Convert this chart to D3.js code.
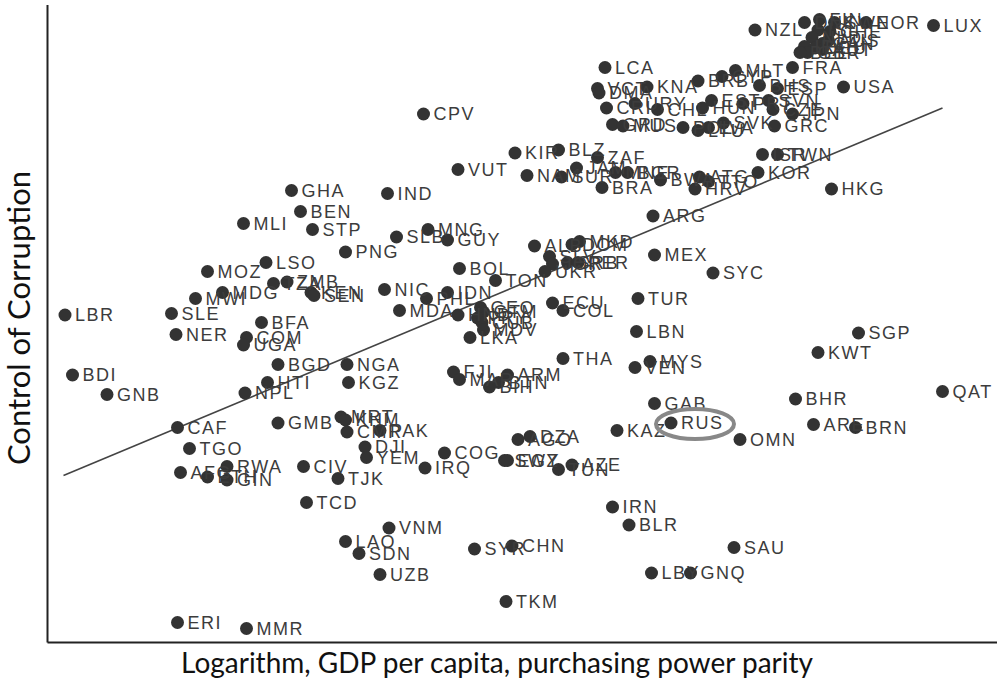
<!DOCTYPE html>
<html>
<head>
<meta charset="utf-8">
<script src="https://cdn.jsdelivr.net/npm/d3@7"></script>
<style>
  body { margin: 0; background: #fff; }
  svg { display: block; }
</style>
</head>
<body>
<div id="scatter"></div>
<script>
// country codes, log GDP per capita (PPP), control of corruption
const codes = [
  "LUX","NOR","NZL","DNK","FIN","SWE","ISL","CHE","NLD","AUS","CAN","IRL","DEU","AUT","GBR","BEL",
  "FRA","USA","LCA","VCT","DMA","KNA","BRB","CYP","MLT","BHS","ESP","CRI","URY","CHL","HUN","EST",
  "PRT","SVN","CZE","JPN","GRD","MUS","POL","LTU","LVA","SVK","GRC","CPV","BLZ","KIR","ZAF","VUT",
  "JAM","NAM","SUR","MNE","BGR","BRA","BWA","ATG","TTO","HRV","KOR","ISR","TWN","HKG","GHA","IND",
  "BEN","MLI","STP","MNG","SLB","GUY","ARG","PNG","MKD","DOM","ALB","MEX","SLV","JOR","SRB","PER",
  "UKR","SYC","BOL","TON","LSO","MOZ","MWI","MDG","TZA","ZMB","KEN","SEN","NIC","IDN","PHL","SLE",
  "BFA","MDA","HND","GEO","GTM","PRY","CUB","MDV","LKA","ECU","COL","TUR","LBN","THA","MYS","VEN",
  "FJI","MAR","BIH","BTN","ARM","LBR","NER","COM","UGA","BDI","GNB","BGD","HTI","NPL","NGA","KGZ",
  "CAF","GMB","MRT","KHM","CMR","PAK","DJI","YEM","TGO","AFG","ETH","RWA","GIN","CIV","TJK","IRQ",
  "COG","TCD","GAB","RUS","KAZ","AGO","DZA","SWZ","EGY","TUN","AZE","OMN","BHR","ARE","BRN","KWT",
  "SGP","QAT","IRN","BLR","SAU","LBY","GNQ","VNM","LAO","SDN","UZB","SYR","CHN","TKM","ERI","MMR"
];
const gdp = [
  11.91,11.46,10.72,11.05,11.15,11.25,11.14,11.22,11.10,11.21,11.17,11.05,11.12,11.17,11.07,11.02,
  10.97,11.31,9.72,9.67,9.68,10.00,10.34,10.50,10.59,10.75,10.87,9.73,9.92,10.07,10.37,10.43,
  10.64,10.81,10.84,10.97,9.77,9.84,10.24,10.34,10.41,10.51,10.85,8.51,9.41,9.12,9.67,8.74,
  9.53,9.20,9.43,9.79,9.87,9.70,10.09,10.35,10.41,10.32,10.74,10.77,10.87,11.23,7.63,8.27,
  7.69,7.31,7.77,8.54,8.33,8.67,10.04,7.99,9.55,9.50,9.25,10.05,9.35,9.37,9.47,9.54,
  9.32,10.44,8.75,8.99,7.46,7.07,6.99,7.17,7.51,7.60,7.76,7.78,8.25,8.67,8.53,6.83,
  7.43,8.35,8.74,8.89,8.91,8.87,8.90,8.91,8.82,9.37,9.44,9.94,9.93,9.44,10.02,9.92,
  8.71,8.75,8.95,9.01,9.07,6.12,6.86,7.33,7.31,6.17,6.40,7.54,7.47,7.32,8.00,8.01,
  6.87,7.54,7.96,7.99,8.00,8.22,8.12,8.13,6.95,6.89,7.07,7.20,7.20,7.71,7.94,8.52,
  8.65,7.73,10.05,10.16,9.80,9.14,9.22,9.05,9.07,9.41,9.50,10.62,10.99,11.11,11.39,11.14,
  11.41,11.97,9.77,9.88,10.58,10.03,10.29,8.28,7.99,8.08,8.22,8.85,9.10,9.06,6.87,7.33
];
const corruption = [
  2.36,2.38,2.33,2.38,2.40,2.38,2.33,2.32,2.28,2.26,2.24,2.22,2.21,2.20,2.18,2.18,
  2.08,1.95,2.08,1.94,1.91,1.95,1.99,2.02,2.06,1.96,1.94,1.81,1.84,1.80,1.81,1.86,
  1.84,1.86,1.80,1.77,1.70,1.69,1.68,1.66,1.68,1.71,1.69,1.77,1.53,1.51,1.48,1.40,
  1.41,1.36,1.35,1.38,1.38,1.28,1.33,1.35,1.32,1.27,1.38,1.50,1.50,1.27,1.26,1.24,
  1.12,1.04,1.00,1.00,0.95,0.93,1.09,0.85,0.92,0.90,0.89,0.83,0.82,0.77,0.78,0.78,
  0.72,0.71,0.74,0.66,0.78,0.72,0.54,0.58,0.64,0.65,0.58,0.56,0.60,0.58,0.54,0.44,
  0.38,0.46,0.43,0.48,0.45,0.41,0.38,0.33,0.28,0.51,0.46,0.54,0.32,0.14,0.12,0.08,
  0.05,0.00,-0.05,-0.02,0.03,0.43,0.30,0.28,0.23,0.03,-0.10,0.10,-0.02,-0.09,0.10,-0.02,
  -0.32,-0.29,-0.25,-0.27,-0.35,-0.34,-0.45,-0.52,-0.46,-0.62,-0.65,-0.58,-0.67,-0.58,-0.66,-0.59,
  -0.49,-0.82,-0.16,-0.29,-0.34,-0.40,-0.38,-0.54,-0.54,-0.60,-0.57,-0.40,-0.13,-0.30,-0.32,0.18,
  0.31,-0.08,-0.85,-0.97,-1.12,-1.29,-1.29,-0.99,-1.08,-1.16,-1.30,-1.13,-1.11,-1.48,-1.62,-1.66
];
// fitted line end points
const trendGdp = [6.11, 11.97];
const trendCorruption = [-0.64, 1.81];
const highlighted = "RUS";

const svgWidth = 997;
const svgHeight = 683;

const svg = d3.select("#scatter")
  .append("svg")
  .attr("width", svgWidth)
  .attr("height", svgHeight);

const xScale = d3.scaleLinear()
  .domain([6, 6 + 950 / 150])
  .range([47, 997]);

const yScale = d3.scaleLinear()
  .domain([-1.75, 2.5])
  .range([642, 4.5]);

const points = codes.map((c, i) => ({ code: c, gdp: gdp[i], cc: corruption[i] }));

// axes: plain lines, no ticks
svg.append("g")
  .attr("transform", "translate(47,0)")
  .call(d3.axisLeft(yScale).ticks(0).tickSizeOuter(0))
  .select(".domain")
  .attr("stroke", "#222")
  .attr("stroke-width", 2);

svg.append("g")
  .attr("transform", "translate(0,642)")
  .call(d3.axisBottom(xScale).ticks(0).tickSizeOuter(0))
  .select(".domain")
  .attr("stroke", "#222")
  .attr("stroke-width", 2);

// trend line
const trend = trendGdp.map((g, i) => ({ gdp: g, cc: trendCorruption[i] }));
svg.append("path")
  .datum(trend)
  .attr("d", d3.line().x(d => xScale(d.gdp)).y(d => yScale(d.cc)))
  .attr("fill", "none")
  .attr("stroke", "#444")
  .attr("stroke-width", 1.6);

// points
svg.append("g")
  .selectAll("circle")
  .data(points)
  .enter()
  .append("circle")
  .attr("cx", d => xScale(d.gdp))
  .attr("cy", d => yScale(d.cc))
  .attr("r", 6.5)
  .attr("fill", "#333");

// labels
svg.append("g")
  .selectAll("text")
  .data(points)
  .enter()
  .append("text")
  .attr("x", d => xScale(d.gdp) + 10)
  .attr("y", d => yScale(d.cc))
  .attr("dy", "0.36em")
  .attr("font-family", "'Liberation Sans', Arial, sans-serif")
  .attr("font-size", 18)
  .attr("letter-spacing", 1.5)
  .attr("fill", "#3c3c3c")
  .text(d => d.code);

// ring round Russia
const rus = points.find(d => d.code === highlighted);
svg.append("ellipse")
  .attr("cx", xScale(rus.gdp) + 24)
  .attr("cy", yScale(rus.cc) + 1)
  .attr("rx", 39)
  .attr("ry", 15)
  .attr("fill", "none")
  .attr("stroke", "#888")
  .attr("stroke-width", 4);

// axis titles
svg.append("text")
  .attr("transform", "translate(30,318) rotate(-90)")
  .attr("text-anchor", "middle")
  .attr("font-family", "Lato, 'Open Sans', sans-serif")
  .attr("font-size", 31)
  .attr("fill", "#111")
  .text("Control of Corruption");

svg.append("text")
  .attr("x", 497)
  .attr("y", 673)
  .attr("text-anchor", "middle")
  .attr("font-family", "Lato, 'Open Sans', sans-serif")
  .attr("font-size", 28)
  .attr("fill", "#111")
  .text("Logarithm, GDP per capita, purchasing power parity");
</script>
</body>
</html>
